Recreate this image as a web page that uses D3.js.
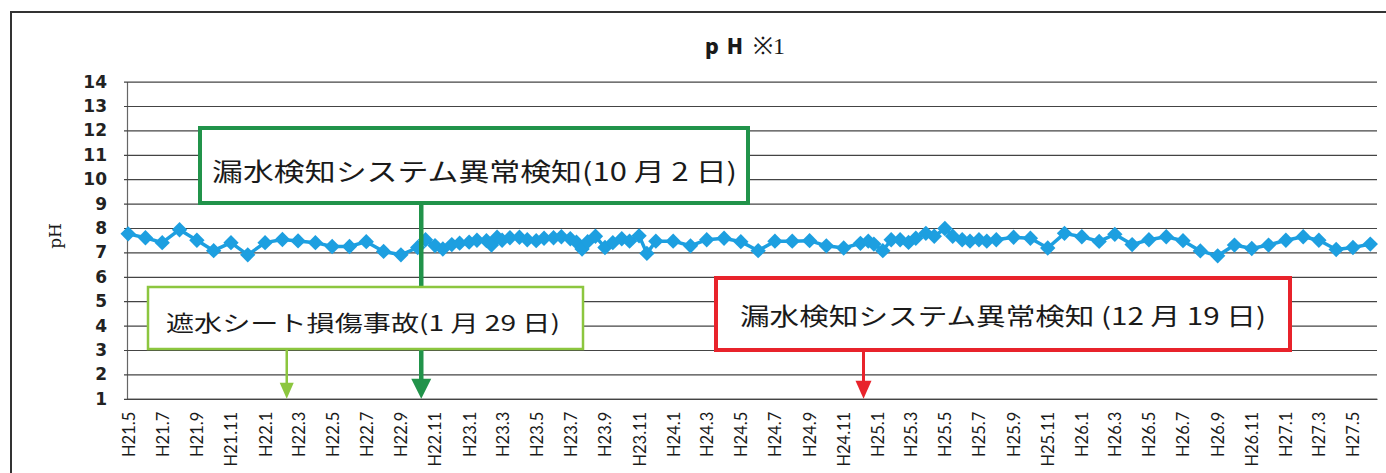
<!DOCTYPE html>
<html>
<head>
<meta charset="utf-8">
<script src="https://cdn.jsdelivr.net/npm/d3@7"></script>
<style>
  html,body{margin:0;padding:0;background:#fff;}
  svg{display:block;}
</style>
</head>
<body>
<div id="chart"></div>
<script>
// ---------------- data ----------------
const sampleDates = [
  "2009-05-01","2009-06-01","2009-07-01","2009-08-01","2009-09-01","2009-10-01","2009-11-01","2009-12-01",
  "2010-01-01","2010-02-01","2010-03-01","2010-04-01","2010-05-01","2010-06-01","2010-07-01","2010-08-01","2010-09-01",
  "2010-10-01","2010-10-15","2010-11-01","2010-11-15","2010-12-01","2010-12-15",
  "2011-01-01","2011-01-15","2011-02-01","2011-02-10","2011-02-20","2011-03-01","2011-03-15","2011-04-01","2011-04-15",
  "2011-05-01","2011-05-15","2011-06-01","2011-06-15","2011-07-01","2011-07-12","2011-07-22","2011-08-01","2011-08-15",
  "2011-09-01","2011-09-15","2011-10-01","2011-10-15","2011-11-01","2011-11-15","2011-12-01",
  "2012-01-01","2012-02-01","2012-03-01","2012-04-01","2012-05-01","2012-06-01","2012-07-01","2012-08-01","2012-09-01",
  "2012-10-01","2012-11-01","2012-12-01","2012-12-15","2012-12-25",
  "2013-01-10","2013-01-25","2013-02-10","2013-02-25","2013-03-10","2013-03-28","2013-04-12","2013-05-01","2013-05-15",
  "2013-06-01","2013-06-15","2013-07-01","2013-07-15","2013-08-01","2013-09-01","2013-10-01","2013-11-01","2013-12-01",
  "2014-01-01","2014-02-01","2014-03-01","2014-04-01","2014-05-01","2014-06-01","2014-07-01","2014-08-01","2014-09-01",
  "2014-10-01","2014-11-01","2014-12-01",
  "2015-01-01","2015-02-01","2015-03-01","2015-04-01","2015-05-01","2015-06-01"
];
const phValues = [
  7.76,7.6,7.4,7.93,7.5,7.07,7.4,6.9,
  7.4,7.53,7.47,7.4,7.24,7.24,7.44,7.04,6.9,
  7.2,7.52,7.28,7.14,7.32,7.38,
  7.42,7.5,7.48,7.3,7.62,7.5,7.6,7.62,7.52,
  7.48,7.58,7.6,7.64,7.56,7.42,7.14,7.44,7.66,
  7.2,7.4,7.56,7.46,7.68,6.96,7.46,
  7.46,7.27,7.52,7.58,7.44,7.07,7.46,7.46,7.48,
  7.27,7.18,7.37,7.46,7.34,
  7.07,7.52,7.52,7.41,7.58,7.78,7.66,7.98,7.66,
  7.52,7.46,7.52,7.46,7.52,7.62,7.58,7.18,7.78,
  7.64,7.45,7.74,7.32,7.52,7.64,7.48,7.06,6.86,
  7.3,7.16,7.3,
  7.5,7.64,7.5,7.12,7.2,7.34
];
const yTicks = [1,2,3,4,5,6,7,8,9,10,11,12,13,14];
const xTickDates = [
  "2009-05-01","2009-07-01","2009-09-01","2009-11-01",
  "2010-01-01","2010-03-01","2010-05-01","2010-07-01","2010-09-01","2010-11-01",
  "2011-01-01","2011-03-01","2011-05-01","2011-07-01","2011-09-01","2011-11-01",
  "2012-01-01","2012-03-01","2012-05-01","2012-07-01","2012-09-01","2012-11-01",
  "2013-01-01","2013-03-01","2013-05-01","2013-07-01","2013-09-01","2013-11-01",
  "2014-01-01","2014-03-01","2014-05-01","2014-07-01","2014-09-01","2014-11-01",
  "2015-01-01","2015-03-01","2015-05-01"
];
const chartTitle = "pH";
const chartTitleNote = "※1";
const yAxisTitle = "pH";
const eventLabels = [
  "漏水検知システム異常検知(10 月 2 日)",
  "遮水シート損傷事故(1 月 29 日)",
  "漏水検知システム異常検知 (12 月 19 日)"
];
const eventDates = ["2010-10-02","2010-01-29","2012-12-19"];

// ---------------- chart ----------------
const W = 1386, H = 473;
const parse = d3.timeParse("%Y-%m-%d");
const data = sampleDates.map((d,i)=>({date: parse(d), v: phValues[i]}));

const svg = d3.select("#chart").append("svg").attr("width",W).attr("height",H);

// outer frame (extends beyond the visible area on right/bottom)
svg.append("path").attr("d","M11,480 L11,12 L1400,12")
  .attr("fill","none").attr("stroke","#333").attr("stroke-width",2);

const x = d3.scaleTime().domain([parse("2009-04-29"), parse("2015-06-13")]).range([127,1377]);
const y = d3.scaleLinear().domain([1,14]).range([398.8,81.6]);

// y axis with gridlines
const yAxis = svg.append("g").attr("transform","translate(127,0)")
  .call(d3.axisLeft(y).tickValues(yTicks).tickSizeInner(-1250).tickSizeOuter(0).tickPadding(20).tickFormat(d3.format("d")));
yAxis.select(".domain").attr("stroke","#666").attr("stroke-width",1.2);
yAxis.selectAll(".tick line").attr("stroke","#444").attr("stroke-width",1.2).attr("x1",-3);
yAxis.selectAll(".tick text")
  .style("font-family","'DejaVu Sans', Verdana, sans-serif")
  .style("font-size","17px").style("font-weight","bold").attr("fill","#222");

// x axis
const fmt = d => "H" + (d.getFullYear()-1988) + "." + (d.getMonth()+1);
const xAxis = svg.append("g").attr("transform",`translate(0,${y(1)})`)
  .call(d3.axisBottom(x).tickValues(xTickDates.map(parse)).tickSize(0).tickFormat(fmt));
xAxis.select(".domain").attr("stroke","#444").attr("stroke-width",1.2);
xAxis.selectAll(".tick text")
  .attr("transform","rotate(-90)")
  .attr("x",-13).attr("y",0).attr("dy","0.36em")
  .attr("text-anchor","end")
  .style("font-family","Lato, 'Open Sans', sans-serif")
  .style("font-size","16.5px").attr("fill","#1a1a1a");

// title
const t = svg.append("text").attr("x",745).attr("y",54).attr("text-anchor","middle").attr("fill","#1a1a1a");
t.append("tspan").style("font-family","'Noto Sans CJK JP', sans-serif").style("font-weight","900")
  .style("font-size","21px").attr("letter-spacing","8px").text(chartTitle);
t.append("tspan").style("font-family","'Liberation Serif', 'DejaVu Serif', serif")
  .style("font-size","24px").attr("dx",2).text(chartTitleNote);

// y axis title
svg.append("text").attr("transform","translate(61,236) rotate(-90)")
  .attr("text-anchor","middle").style("font-family","'DejaVu Serif', 'Liberation Serif', serif")
  .style("font-size","17px").attr("fill","#1a1a1a").text(yAxisTitle);

// series line + markers
const lineColor = "#1d9fe0";
svg.append("path").datum(data)
  .attr("d", d3.line().x(d=>x(d.date)).y(d=>y(d.v)))
  .attr("fill","none").attr("stroke",lineColor).attr("stroke-width",3.5).attr("stroke-linejoin","round");
svg.append("g").selectAll("path").data(data).join("path")
  .attr("d", d3.symbol(d3.symbolSquare, 118))
  .attr("transform", d=>`translate(${x(d.date)},${y(d.v)}) rotate(45)`)
  .attr("fill",lineColor);

// annotations
const boxes = [
  {x0:200, y0:128, x1:748, y1:203, color:"#21934a", sw:4, fs:25, tx0:212, tx1:737, ty:181, arrowW:4.5, headW:20, headH:20, dx:3},
  {x0:148, y0:287, x1:583, y1:349, color:"#8cc63f", sw:2.5, fs:22, tx0:166, tx1:560, ty:331, arrowW:2.5, headW:14, headH:16, dx:6},
  {x0:716, y0:278, x1:1290, y1:350, color:"#e8232b", sw:4, fs:24, tx0:740, tx1:1266, ty:325, arrowW:3, headW:16, headH:18, dx:-7}
];
boxes.forEach((b,i)=>{
  const g = svg.append("g");
  const ax = x(parse(eventDates[i])) + b.dx;
  const tip = y(1);
  g.append("line").attr("x1",ax).attr("x2",ax).attr("y1",b.y1).attr("y2",tip-b.headH+1)
    .attr("stroke",b.color).attr("stroke-width",b.arrowW);
  g.append("path").attr("d",`M${ax-b.headW/2},${tip-b.headH} L${ax+b.headW/2},${tip-b.headH} L${ax},${tip} Z`)
    .attr("fill",b.color);
  g.append("rect").attr("x",b.x0).attr("y",b.y0).attr("width",b.x1-b.x0).attr("height",b.y1-b.y0)
    .attr("fill","#fff").attr("stroke",b.color).attr("stroke-width",b.sw);
  g.append("text").attr("x",b.tx0).attr("y",b.ty)
    .attr("textLength",b.tx1-b.tx0).attr("lengthAdjust","spacingAndGlyphs")
    .style("font-family","'Noto Sans CJK JP', sans-serif").style("font-size",b.fs+"px")
    .attr("fill","#1a1a1a").text(eventLabels[i]);
});
</script>
</body>
</html>
